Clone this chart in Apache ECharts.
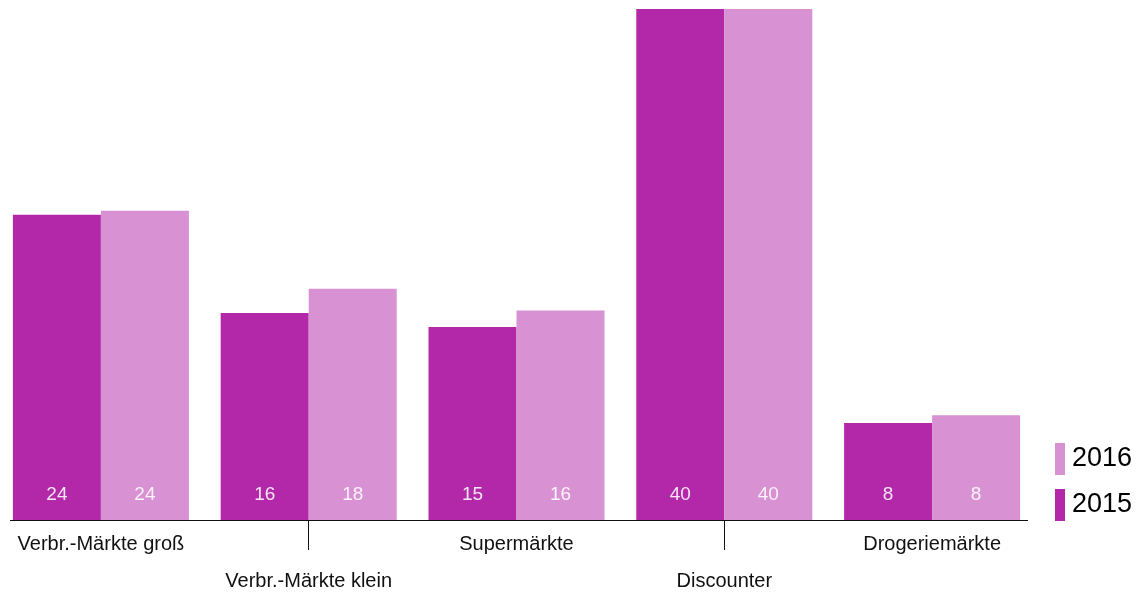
<!DOCTYPE html>
<html>
<head>
<meta charset="utf-8">
<script src="https://cdn.jsdelivr.net/npm/echarts@6/dist/echarts.min.js"></script>
<style>html,body{margin:0;padding:0;background:#fff;}#c{width:1140px;height:592px;}</style>
</head>
<body>
<div id="c"></div>
<script>
const categories = ['Verbr.-Märkte groß', 'Verbr.-Märkte klein', 'Supermärkte', 'Discounter', 'Drogeriemärkte'];
const values2015 = [23.9, 16.2, 15.1, 40, 7.6];
const values2016 = [24.2, 18.1, 16.4, 40, 8.2];
const seriesNames = ['2015', '2016'];
const colors = ['#B228A9', '#D891D2'];

const chart = echarts.init(document.getElementById('c'), null, {renderer: 'canvas'});
const font = '"Liberation Sans", Arial, Helvetica, sans-serif';
const labelCfg = {
  show: true,
  position: 'insideBottom',
  distance: 16,
  color: 'rgba(255,255,255,0.88)',
  fontSize: 19,
  fontFamily: font,
  formatter: p => Math.round(p.value)
};
chart.setOption({
  animation: false,
  grid: {left: -3, width: 1039, top: 9, bottom: 72, containLabel: false, outerBoundsMode: 'none'},
  legend: {
    data: ['2016', '2015'],
    orient: 'vertical',
    left: 1055,
    top: 443,
    padding: 0,
    icon: 'rect',
    itemWidth: 10,
    itemHeight: 32,
    itemGap: 14,
    selectedMode: false,
    textStyle: {fontSize: 27, lineHeight: 24, fontFamily: font, color: '#000', padding: [6, 0, 0, 2]}
  },
  xAxis: {
    type: 'category',
    data: categories,
    axisLine: {show: false},
    axisTick: {
      show: true,
      alignWithLabel: true,
      length: 30,
      interval: (i) => i % 2 === 1,
      lineStyle: {color: '#111', width: 1}
    },
    axisLabel: {
      interval: 0,
      margin: 6,
      fontSize: 20,
      lineHeight: 37,
      fontFamily: font,
      color: '#111',
      formatter: (v, i) => i % 2 === 1 ? '\n' + v : v
    }
  },
  yAxis: {type: 'value', min: 0, max: 40, show: false, splitLine: {show: false}},
  graphic: [{
    type: 'line',
    shape: {x1: 10, y1: 520.5, x2: 1028, y2: 520.5},
    style: {stroke: '#111', lineWidth: 1},
    z: 100
  }],
  series: [
    {name: seriesNames[0], type: 'bar', data: values2015, itemStyle: {color: colors[0]}, barGap: 0, barCategoryGap: '15.3%', label: labelCfg},
    {name: seriesNames[1], type: 'bar', data: values2016, itemStyle: {color: colors[1]}, barGap: 0, barCategoryGap: '15.3%', label: labelCfg}
  ]
});
</script>
</body>
</html>
